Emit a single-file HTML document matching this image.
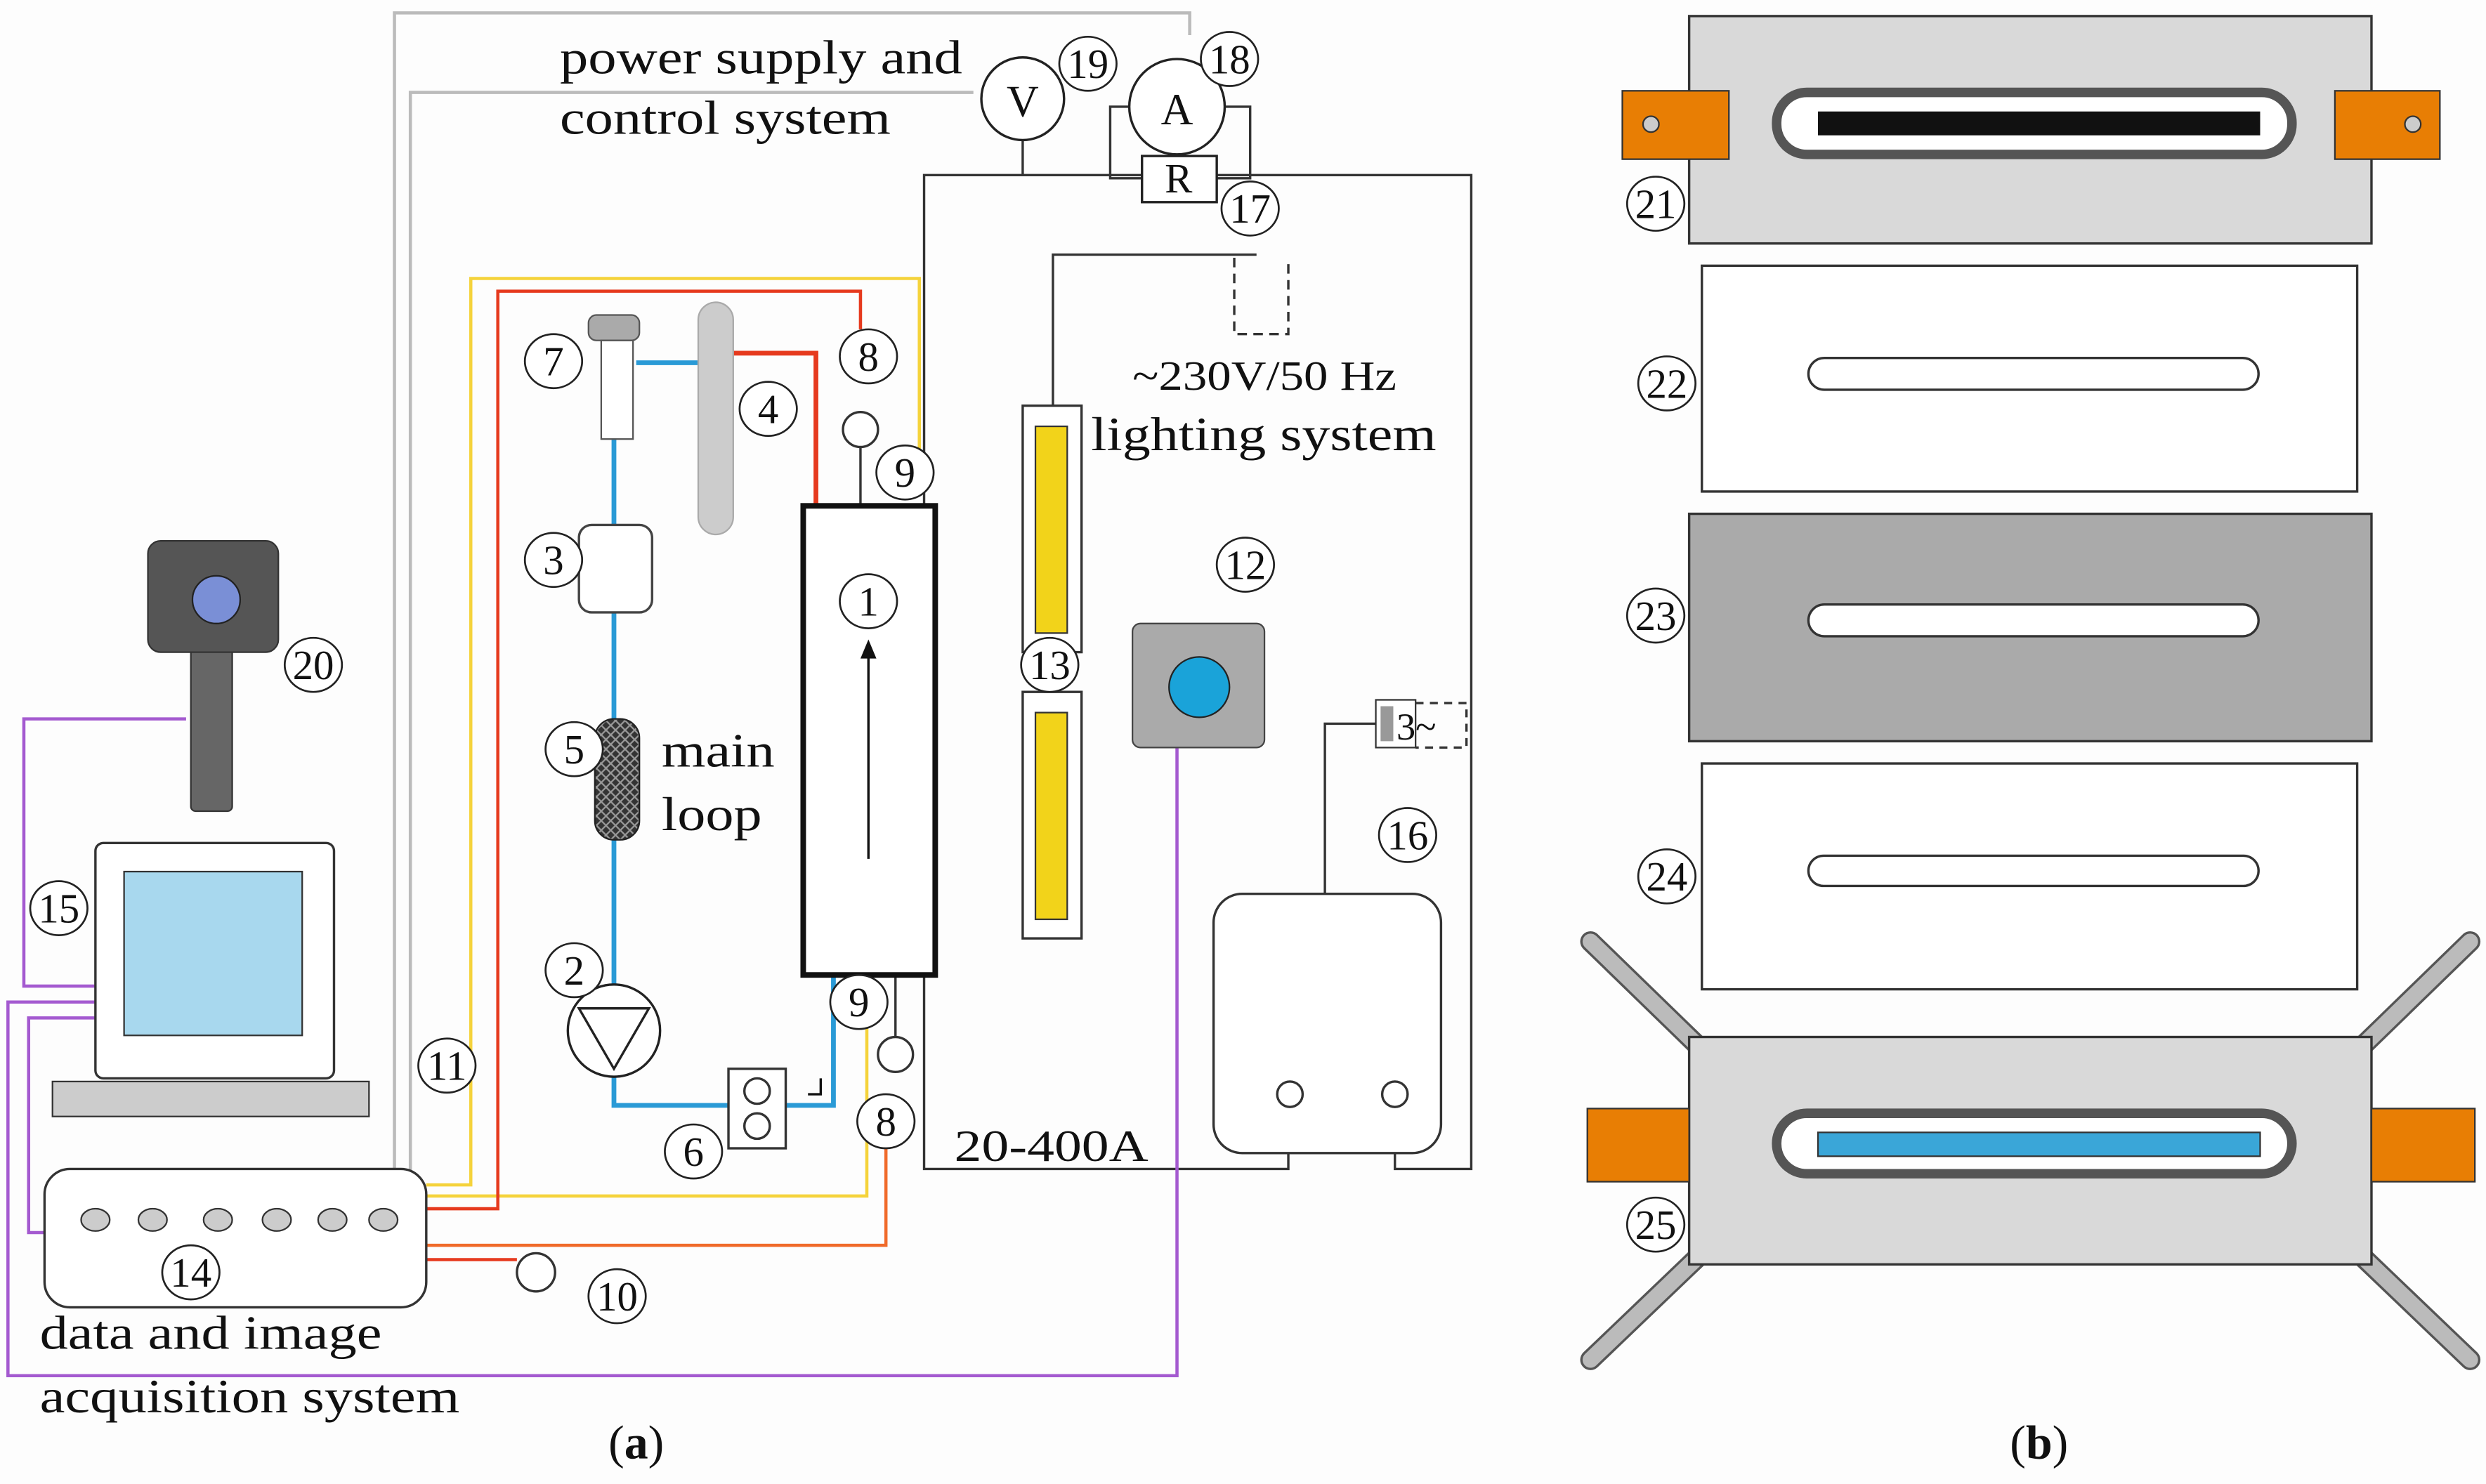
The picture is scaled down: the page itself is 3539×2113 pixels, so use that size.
<!DOCTYPE html>
<html><head><meta charset="utf-8"><style>
html,body{margin:0;padding:0;background:#fdfdfd}
svg{display:block}
text{font-family:"Liberation Serif",serif;fill:#111}
</style></head><body>
<svg width="3539" height="2113" viewBox="0 0 1563 933" xmlns="http://www.w3.org/2000/svg">
<defs>
<pattern id="hatch" width="6" height="6" patternUnits="userSpaceOnUse">
<rect width="6" height="6" fill="#333"/><path d="M0 0L6 6M6 0L0 6" stroke="#999" stroke-width="1"/>
</pattern>
<g id="c"><ellipse rx="18" ry="17" fill="#fff" stroke="#222" stroke-width="1.2"/></g>
</defs>
<rect width="1563" height="933" fill="#fdfdfd"/>
<g fill="none" stroke-width="2">
<path d="M248 738V8H748V22" stroke="#bbb"/>
<path d="M258 738V58H612" stroke="#bbb"/>
<path d="M581 300V110H925V735H877V690" stroke="#333" stroke-width="1.5"/>
<path d="M581 300V735H810V690" stroke="#333" stroke-width="1.5"/>
<path d="M643 88V110" stroke="#333" stroke-width="1.5"/>
<path d="M710 67H698V112H718M770 67H786V112H765" stroke="#333" stroke-width="1.5"/>
<path d="M662 255V160H790" stroke="#333" stroke-width="1.5"/>
<path d="M776 162V210H810V162" stroke="#333" stroke-width="1.5" stroke-dasharray="6 4"/>
<path d="M833 562V455H865" stroke="#333" stroke-width="1.5"/>
<path d="M890 442H922V470H890" stroke="#333" stroke-width="1.5" stroke-dasharray="5 4"/>
<path d="M740 470V865H5V630H60" stroke="#a45ad0"/>
<path d="M117 452H15V620H60" stroke="#a45ad0"/>
<path d="M28 775H18V640H60" stroke="#a45ad0"/>
<path d="M268 745H296V175H578V295" stroke="#f5d33b"/>
<path d="M268 752H545V645" stroke="#f5d33b"/>
<path d="M268 760H313V183H541V207" stroke="#e63a1e"/>
<path d="M455 222H513V318" stroke="#e63a1e" stroke-width="3"/>
<path d="M268 783H557V722" stroke="#f06a2a"/>
<path d="M268 792H325" stroke="#e63a1e"/>
<path d="M400 228H447M386 276V330M386 385V452M386 528V619M386 677V695H458M494 695H524V613" stroke="#2a9ad6" stroke-width="3"/>
<path d="M541 281V318M563 613V652" stroke="#333" stroke-width="1.5"/>
</g>
<text x="352" y="46" font-size="30" textLength="253" lengthAdjust="spacingAndGlyphs">power supply and</text>
<text x="352" y="84" font-size="30" textLength="208" lengthAdjust="spacingAndGlyphs">control system</text>
<circle cx="643" cy="62" r="26" fill="#fff" stroke="#222" stroke-width="1.5"/><text x="643" y="73" font-size="28" text-anchor="middle">V</text>
<circle cx="740" cy="67" r="30" fill="#fff" stroke="#222" stroke-width="1.5"/><text x="740" y="78" font-size="28" text-anchor="middle">A</text>
<rect x="718" y="98" width="47" height="29" fill="#fff" stroke="#222" stroke-width="1.5"/><text x="741" y="121" font-size="26" text-anchor="middle">R</text>
<text x="712" y="245" font-size="26" textLength="166" lengthAdjust="spacingAndGlyphs">~230V/50 Hz</text>
<text x="686" y="283" font-size="30" textLength="217" lengthAdjust="spacingAndGlyphs">lighting system</text>
<rect x="643" y="255" width="37" height="155" fill="#fff" stroke="#333" stroke-width="1.5"/><rect x="651" y="268" width="20" height="130" fill="#f2d31a" stroke="#333"/>
<rect x="643" y="435" width="37" height="155" fill="#fff" stroke="#333" stroke-width="1.5"/><rect x="651" y="448" width="20" height="130" fill="#f2d31a" stroke="#333"/>
<rect x="712" y="392" width="83" height="78" rx="5" fill="#aaa" stroke="#444"/><circle cx="754" cy="432" r="19" fill="#1aa3d9" stroke="#222"/>
<rect x="763" y="562" width="143" height="163" rx="18" fill="#fff" stroke="#333" stroke-width="1.5"/>
<circle cx="811" cy="688" r="8" fill="#fff" stroke="#333" stroke-width="1.5"/><circle cx="877" cy="688" r="8" fill="#fff" stroke="#333" stroke-width="1.5"/>
<rect x="865" y="440" width="25" height="30" fill="#fff" stroke="#333"/><rect x="868" y="444" width="8" height="22" fill="#999"/><text x="878" y="465" font-size="24">3~</text>
<text x="600" y="730" font-size="28" textLength="122" lengthAdjust="spacingAndGlyphs">20-400A</text>
<rect x="505" y="318" width="83" height="295" fill="#fff" stroke="#111" stroke-width="3.5"/>
<path d="M546 540V412" stroke="#111" stroke-width="1.5"/><path d="M541 414L546 402L551 414Z" fill="#111"/>
<circle cx="541" cy="270" r="11" fill="#fff" stroke="#333" stroke-width="1.5"/>
<circle cx="563" cy="663" r="11" fill="#fff" stroke="#333" stroke-width="1.5"/>
<circle cx="337" cy="800" r="12" fill="#fff" stroke="#333" stroke-width="1.5"/>
<rect x="370" y="198" width="32" height="16" rx="5" fill="#aaa" stroke="#555"/><rect x="378" y="214" width="20" height="62" fill="#fff" stroke="#555"/>
<rect x="439" y="190" width="22" height="146" rx="11" fill="#ccc" stroke="#aaa"/>
<rect x="364" y="330" width="46" height="55" rx="8" fill="#fff" stroke="#444" stroke-width="1.5"/>
<rect x="374" y="452" width="28" height="76" rx="12" fill="url(#hatch)" stroke="#222"/>
<text x="416" y="482" font-size="30" textLength="71" lengthAdjust="spacingAndGlyphs">main</text><text x="416" y="522" font-size="30" textLength="63" lengthAdjust="spacingAndGlyphs">loop</text>
<circle cx="386" cy="648" r="29" fill="#fff" stroke="#222" stroke-width="1.5"/><path d="M364 634H408L386 672Z" fill="none" stroke="#222" stroke-width="1.5"/>
<rect x="458" y="672" width="36" height="50" fill="#fff" stroke="#333" stroke-width="1.5"/><circle cx="476" cy="686" r="8" fill="none" stroke="#333" stroke-width="1.5"/><circle cx="476" cy="708" r="8" fill="none" stroke="#333" stroke-width="1.5"/>
<path d="M508 688H516V678" fill="none" stroke="#111" stroke-width="1.5"/>
<rect x="28" y="735" width="240" height="87" rx="16" fill="#fff" stroke="#333" stroke-width="1.5"/>
<g fill="#ccc" stroke="#333"><ellipse cx="60" cy="767" rx="9" ry="7"/><ellipse cx="96" cy="767" rx="9" ry="7"/><ellipse cx="137" cy="767" rx="9" ry="7"/><ellipse cx="174" cy="767" rx="9" ry="7"/><ellipse cx="209" cy="767" rx="9" ry="7"/><ellipse cx="241" cy="767" rx="9" ry="7"/></g>
<text x="25" y="848" font-size="30" textLength="215" lengthAdjust="spacingAndGlyphs">data and image</text><text x="25" y="888" font-size="30" textLength="264" lengthAdjust="spacingAndGlyphs">acquisition system</text>
<rect x="60" y="530" width="150" height="148" rx="5" fill="#fff" stroke="#333" stroke-width="1.5"/>
<rect x="78" y="548" width="112" height="103" fill="#a8d8ee" stroke="#333"/>
<rect x="33" y="680" width="199" height="22" fill="#ccc" stroke="#333"/>
<rect x="120" y="405" width="26" height="105" rx="3" fill="#666" stroke="#333"/>
<rect x="93" y="340" width="82" height="70" rx="8" fill="#555" stroke="#333"/>
<circle cx="136" cy="377" r="15" fill="#7a8fd6" stroke="#222"/>
<g font-size="26" text-anchor="middle">
<use href="#c" x="684" y="40"/><text x="684" y="49">19</text>
<use href="#c" x="773" y="37"/><text x="773" y="46">18</text>
<use href="#c" x="786" y="131"/><text x="786" y="140">17</text>
<use href="#c" x="783" y="355"/><text x="783" y="364">12</text>
<use href="#c" x="660" y="418"/><text x="660" y="427">13</text>
<use href="#c" x="885" y="525"/><text x="885" y="534">16</text>
<use href="#c" x="546" y="378"/><text x="546" y="387">1</text>
<use href="#c" x="569" y="297"/><text x="569" y="306">9</text>
<use href="#c" x="540" y="630"/><text x="540" y="639">9</text>
<use href="#c" x="546" y="224"/><text x="546" y="233">8</text>
<use href="#c" x="557" y="705"/><text x="557" y="714">8</text>
<use href="#c" x="348" y="227"/><text x="348" y="236">7</text>
<use href="#c" x="483" y="257"/><text x="483" y="266">4</text>
<use href="#c" x="348" y="352"/><text x="348" y="361">3</text>
<use href="#c" x="361" y="471"/><text x="361" y="480">5</text>
<use href="#c" x="361" y="610"/><text x="361" y="619">2</text>
<use href="#c" x="436" y="724"/><text x="436" y="733">6</text>
<use href="#c" x="281" y="670"/><text x="281" y="679">11</text>
<use href="#c" x="388" y="815"/><text x="388" y="824">10</text>
<use href="#c" x="120" y="800"/><text x="120" y="809">14</text>
<use href="#c" x="37" y="571"/><text x="37" y="580">15</text>
<use href="#c" x="197" y="418"/><text x="197" y="427">20</text>
<use href="#c" x="1041" y="128"/><text x="1041" y="137">21</text>
<use href="#c" x="1048" y="241"/><text x="1048" y="250">22</text>
<use href="#c" x="1041" y="387"/><text x="1041" y="396">23</text>
<use href="#c" x="1048" y="551"/><text x="1048" y="560">24</text>
<use href="#c" x="1041" y="770"/><text x="1041" y="779">25</text>
</g>
<text x="400" y="917" font-size="30" text-anchor="middle">(<tspan font-weight="bold">a</tspan>)</text>
<text x="1282" y="917" font-size="30" text-anchor="middle">(<tspan font-weight="bold">b</tspan>)</text>
<rect x="1062" y="10" width="429" height="143" fill="#d9d9d9" stroke="#333" stroke-width="1.5"/>
<rect x="1020" y="57" width="67" height="43" fill="#e87e04" stroke="#333"/><circle cx="1038" cy="78" r="5" fill="#ccc" stroke="#333"/>
<rect x="1468" y="57" width="66" height="43" fill="#e87e04" stroke="#333"/><circle cx="1517" cy="78" r="5" fill="#ccc" stroke="#333"/>
<rect x="1117" y="58" width="324" height="39" rx="19" fill="#fff" stroke="#555" stroke-width="6"/>
<rect x="1143" y="70" width="278" height="15" fill="#111"/>
<rect x="1070" y="167" width="412" height="142" fill="#fff" stroke="#333" stroke-width="1.5"/>
<rect x="1137" y="225" width="283" height="20" rx="10" fill="#fff" stroke="#333" stroke-width="1.5"/>
<rect x="1062" y="323" width="429" height="143" fill="#aaa" stroke="#333" stroke-width="1.5"/>
<rect x="1137" y="380" width="283" height="20" rx="10" fill="#fff" stroke="#333" stroke-width="1.5"/>
<rect x="1070" y="480" width="412" height="142" fill="#fff" stroke="#333" stroke-width="1.5"/>
<rect x="1137" y="538" width="283" height="19" rx="9.5" fill="#fff" stroke="#333" stroke-width="1.5"/>
<g stroke="#555" stroke-width="13" stroke-linecap="round"><path d="M1000 592L1070 660M1553 592L1483 660M1000 855L1070 788M1553 855L1483 788"/></g>
<g stroke="#bbb" stroke-width="10" stroke-linecap="round"><path d="M1000 592L1070 660M1553 592L1483 660M1000 855L1070 788M1553 855L1483 788"/></g>
<rect x="1062" y="652" width="429" height="143" fill="#d9d9d9" stroke="#333" stroke-width="1.5"/>
<rect x="998" y="697" width="64" height="46" fill="#e87e04" stroke="#333"/>
<rect x="1491" y="697" width="65" height="46" fill="#e87e04" stroke="#333"/>
<rect x="1117" y="700" width="324" height="38" rx="19" fill="#fff" stroke="#555" stroke-width="6"/>
<rect x="1143" y="712" width="278" height="15" fill="#3aa6d8" stroke="#333"/>
</svg>
</body></html>
